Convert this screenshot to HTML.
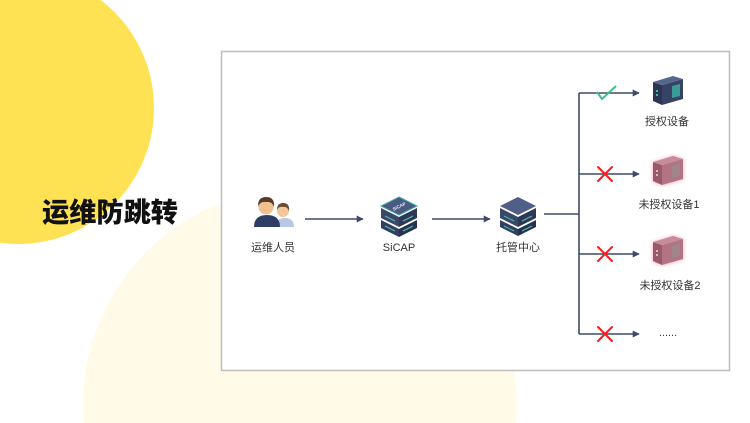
<!DOCTYPE html>
<html>
<head>
<meta charset="utf-8">
<style>
  html,body{margin:0;padding:0;background:#fff;width:750px;height:423px;overflow:hidden;}
  body{position:relative;}
  svg{display:block;position:absolute;left:0;top:0;overflow:hidden;}
  .lbl{font-family:"Liberation Sans","Noto Sans CJK SC",sans-serif;font-size:11px;fill:#333;}
  .ttl{font-family:"Liberation Sans","Noto Sans CJK SC",sans-serif;font-size:27px;font-weight:900;fill:#111;}
</style>
</head>
<body>
<svg width="750" height="423" viewBox="0 0 750 423" xmlns="http://www.w3.org/2000/svg">
  <defs>
    <marker id="ah" viewBox="0 0 10 10" refX="9" refY="5" markerWidth="7" markerHeight="7" markerUnits="userSpaceOnUse" orient="auto">
      <path d="M0,0 L10,5 L0,10 z" fill="#3d4a6b"/>
    </marker>
    <filter id="glow" x="-40%" y="-40%" width="180%" height="180%">
      <feGaussianBlur stdDeviation="1.6"/>
    </filter>
  </defs>

  <!-- background circles (pre-clipped to the frame) -->
  <path d="M83.75,423 A217,217 0 1 1 516.25,423 Z" fill="#fffbe8"/>
  <path d="M0,0 L100.65,0 A136,136 0 0 1 0,242.8 Z" fill="#ffe154"/>

  <!-- title -->
  <text class="ttl" x="42" y="222" textLength="136" lengthAdjust="spacingAndGlyphs">运维防跳转</text>

  <!-- frame -->
  <rect x="221.5" y="51.5" width="508" height="319" fill="#fff" stroke="#bdbdbd" stroke-width="1.5"/>

  <!-- people icon -->
  <g>
    <path d="M276,227 Q276,218 285,218 Q294,218 294,227 Z" fill="#b9c9e2"/>
    <circle cx="283" cy="211" r="6" fill="#f3c79a"/>
    <path d="M277,210 Q277,203 283,203 Q290,203 289,211 Q287,206 283,207 Q279,206 277,210 Z" fill="#6b4a2e"/>
    <path d="M254,227 Q254,215 267,215 Q280,215 280,227 Z" fill="#2d3d63"/>
    <circle cx="266" cy="207" r="7.5" fill="#f0c08e"/>
    <path d="M258,206 Q258,197 266,197 Q275,197 274,207 Q272,201 266,202 Q261,201 258,206 Z" fill="#5a3a22"/>
  </g>
  <text class="lbl" x="273" y="251" text-anchor="middle">运维人员</text>

  <!-- arrow 1 -->
  <line x1="305" y1="219" x2="363" y2="219" stroke="#3d4a6b" stroke-width="1.6" marker-end="url(#ah)"/>

  <!-- SiCAP icon -->
  <g>
    <polygon points="381,220 399,229 399,237 381,228" fill="#323f60"/>
    <polygon points="399,229 417,220 417,228 399,237" fill="#27324f"/>
    <polygon points="381,208 399,217 399,227 381,218" fill="#3a4769"/>
    <polygon points="399,217 417,208 417,218 399,227" fill="#2d3856"/>
    <polygon points="399,197 417,206 399,215 381,206" fill="#4a5a82" stroke="#3aa7a2" stroke-width="1"/>
    <text x="399" y="208" font-family="Liberation Sans, sans-serif" font-size="4.5" font-weight="bold" fill="#e8eef8" text-anchor="middle" transform="rotate(-26 399 206)">SiCAP</text>
    <line x1="403" y1="221" x2="413" y2="216" stroke="#4fbcad" stroke-width="1.2"/>
    <line x1="403" y1="231" x2="413" y2="226" stroke="#4fbcad" stroke-width="1.2"/>
    <line x1="385" y1="216" x2="395" y2="221" stroke="#4fbcad" stroke-width="1"/>
    <line x1="385" y1="226" x2="395" y2="231" stroke="#4fbcad" stroke-width="1"/>
  </g>
  <text class="lbl" x="399" y="251" text-anchor="middle">SiCAP</text>

  <!-- arrow 2 -->
  <line x1="432" y1="219" x2="490" y2="219" stroke="#3d4a6b" stroke-width="1.6" marker-end="url(#ah)"/>

  <!-- 托管中心 icon -->
  <g>
    <polygon points="500,220 518,229 518,236 500,227" fill="#323f60"/>
    <polygon points="518,229 536,220 536,227 518,236" fill="#27324f"/>
    <polygon points="500,208 518,217 518,227 500,218" fill="#3a4769"/>
    <polygon points="518,217 536,208 536,218 518,227" fill="#2d3856"/>
    <polygon points="518,197 536,206 518,215 500,206" fill="#4f5f88"/>
    <line x1="522" y1="221" x2="532" y2="216" stroke="#4fbcad" stroke-width="1.2"/>
    <line x1="522" y1="231" x2="532" y2="226" stroke="#4fbcad" stroke-width="1.2"/>
    <line x1="504" y1="216" x2="514" y2="221" stroke="#4fbcad" stroke-width="1"/>
    <line x1="504" y1="226" x2="514" y2="231" stroke="#4fbcad" stroke-width="1"/>
  </g>
  <text class="lbl" x="518" y="251" text-anchor="middle">托管中心</text>

  <!-- branch lines -->
  <line x1="544" y1="214" x2="579" y2="214" stroke="#3d4a6b" stroke-width="1.6"/>
  <line x1="579" y1="93" x2="579" y2="334" stroke="#3d4a6b" stroke-width="1.6"/>
  <line x1="579" y1="93" x2="639" y2="93" stroke="#3d4a6b" stroke-width="1.6" marker-end="url(#ah)"/>
  <line x1="579" y1="174" x2="639" y2="174" stroke="#3d4a6b" stroke-width="1.6" marker-end="url(#ah)"/>
  <line x1="579" y1="254" x2="639" y2="254" stroke="#3d4a6b" stroke-width="1.6" marker-end="url(#ah)"/>
  <line x1="579" y1="334" x2="639" y2="334" stroke="#3d4a6b" stroke-width="1.6" marker-end="url(#ah)"/>

  <!-- check -->
  <polyline points="597,92 602,99 616,86" fill="none" stroke="#3ec08c" stroke-width="2"/>
  <!-- red X marks -->
  <g stroke="#ff1b1b" stroke-width="2" stroke-linecap="round">
    <line x1="598" y1="167" x2="612" y2="181"/><line x1="612" y1="167" x2="598" y2="181"/>
    <line x1="598" y1="247" x2="612" y2="261"/><line x1="612" y1="247" x2="598" y2="261"/>
    <line x1="598" y1="327" x2="612" y2="341"/><line x1="612" y1="327" x2="598" y2="341"/>
  </g>

  <!-- authorized device -->
  <g>
    <polygon points="653,82 662,85 662,105 653,101" fill="#2a3553"/>
    <polygon points="662,85 683,79 683,99 662,105" fill="#364365"/>
    <polygon points="653,82 673,76 683,79 662,85" fill="#56668f"/>
    <polygon points="672,86 680,84 680,96 672,98" fill="#3a9d95"/>
    <rect x="656" y="90" width="2" height="2" fill="#48b3a6"/>
    <rect x="656" y="94" width="2" height="2" fill="#48b3a6"/>
  </g>
  <text class="lbl" x="667" y="125" text-anchor="middle">授权设备</text>

  <!-- unauthorized device 1 -->
  <g>
    <g filter="url(#glow)" opacity="0.8">
      <polygon points="652,162 674,155 684,159 684,180 662,186 652,182" fill="#f3b4c2"/>
    </g>
    <polygon points="653,162 662,165 662,185 653,181" fill="#9a5a6b"/>
    <polygon points="662,165 683,159 683,179 662,185" fill="#b27383"/>
    <polygon points="653,162 673,156 683,159 662,165" fill="#c58d9a"/>
    <polygon points="672,166 680,164 680,176 672,178" fill="#a0868c"/>
    <rect x="656" y="170" width="2" height="2" fill="#d7b7bf"/>
    <rect x="656" y="174" width="2" height="2" fill="#d7b7bf"/>
  </g>
  <text class="lbl" x="669" y="208" text-anchor="middle">未授权设备1</text>

  <!-- unauthorized device 2 -->
  <g>
    <g filter="url(#glow)" opacity="0.8">
      <polygon points="652,242 674,235 684,239 684,260 662,266 652,262" fill="#f3b4c2"/>
    </g>
    <polygon points="653,242 662,245 662,265 653,261" fill="#9a5a6b"/>
    <polygon points="662,245 683,239 683,259 662,265" fill="#b27383"/>
    <polygon points="653,242 673,236 683,239 662,245" fill="#c58d9a"/>
    <polygon points="672,246 680,244 680,256 672,258" fill="#a0868c"/>
    <rect x="656" y="250" width="2" height="2" fill="#d7b7bf"/>
    <rect x="656" y="254" width="2" height="2" fill="#d7b7bf"/>
  </g>
  <text class="lbl" x="670" y="289" text-anchor="middle">未授权设备2</text>

  <!-- ellipsis -->
  <text class="lbl" x="668" y="336" text-anchor="middle">......</text>
</svg>
</body>
</html>
